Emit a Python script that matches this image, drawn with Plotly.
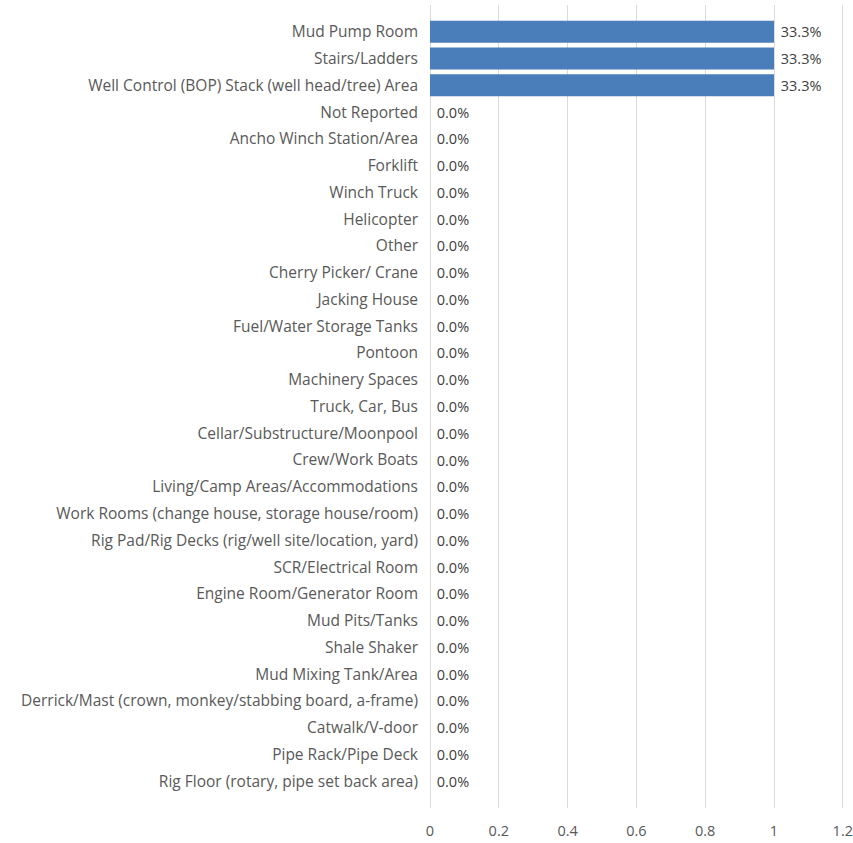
import plotly.graph_objects as go

categories = [
    "Mud Pump Room",
    "Stairs/Ladders",
    "Well Control (BOP) Stack (well head/tree) Area",
    "Not Reported",
    "Ancho Winch Station/Area",
    "Forklift",
    "Winch Truck",
    "Helicopter",
    "Other",
    "Cherry Picker/ Crane",
    "Jacking House",
    "Fuel/Water Storage Tanks",
    "Pontoon",
    "Machinery Spaces",
    "Truck, Car, Bus",
    "Cellar/Substructure/Moonpool",
    "Crew/Work Boats",
    "Living/Camp Areas/Accommodations",
    "Work Rooms (change house, storage house/room)",
    "Rig Pad/Rig Decks (rig/well site/location, yard)",
    "SCR/Electrical Room",
    "Engine Room/Generator Room",
    "Mud Pits/Tanks",
    "Shale Shaker",
    "Mud Mixing Tank/Area",
    "Derrick/Mast (crown, monkey/stabbing board, a-frame)",
    "Catwalk/V-door",
    "Pipe Rack/Pipe Deck",
    "Rig Floor (rotary, pipe set back area)",
]
counts = [1, 1, 1] + [0] * 26
percent_labels = ["33.3%", "33.3%", "33.3%"] + ["0.0%"] * 26
x_ticks = [0, 0.2, 0.4, 0.6, 0.8, 1, 1.2]
x_tick_text = ["0", "0.2", "0.4", "0.6", "0.8", "1", "1.2"]

FONT = "Open Sans"
GRAY = "#595959"

fig = go.Figure(
    go.Bar(
        x=counts,
        y=categories,
        orientation="h",
        width=0.82,
        marker=dict(color="#4a7ebb", line=dict(width=0)),
        text=["\u00a0" + t for t in percent_labels],
        textposition="outside",
        cliponaxis=False,
        textfont=dict(family=FONT, size=14.5, color="#404040"),
    )
)

fig.update_layout(
    width=853,
    height=843,
    margin=dict(l=430, r=8, t=5, b=35, autoexpand=False),
    paper_bgcolor="white",
    plot_bgcolor="white",
    showlegend=False,
    font=dict(family=FONT, size=15, color=GRAY),
    xaxis=dict(
        range=[0, 1.2064],
        tickvals=x_ticks,
        ticktext=x_tick_text,
        showgrid=True,
        gridcolor="#d9d9d9",
        gridwidth=1,
        zeroline=True,
        zerolinecolor="#d9d9d9",
        zerolinewidth=1,
        showline=False,
        ticks="",
        automargin=False,
        ticklabelstandoff=12,
        ticklabeloverflow="allow",
        tickfont=dict(family=FONT, size=14.5, color=GRAY),
    ),
    yaxis=dict(
        type="category",
        categoryorder="array",
        categoryarray=categories,
        range=[len(categories), -1],
        showgrid=False,
        showline=False,
        zeroline=False,
        ticks="",
        automargin=False,
        ticklabelstandoff=11,
        tickfont=dict(family=FONT, size=15.5, color=GRAY),
    ),
)

fig.write_html(
    "out.html",
    config={"displayModeBar": False},
    post_script="document.body.style.margin='0';document.body.style.overflow='hidden';",
)
